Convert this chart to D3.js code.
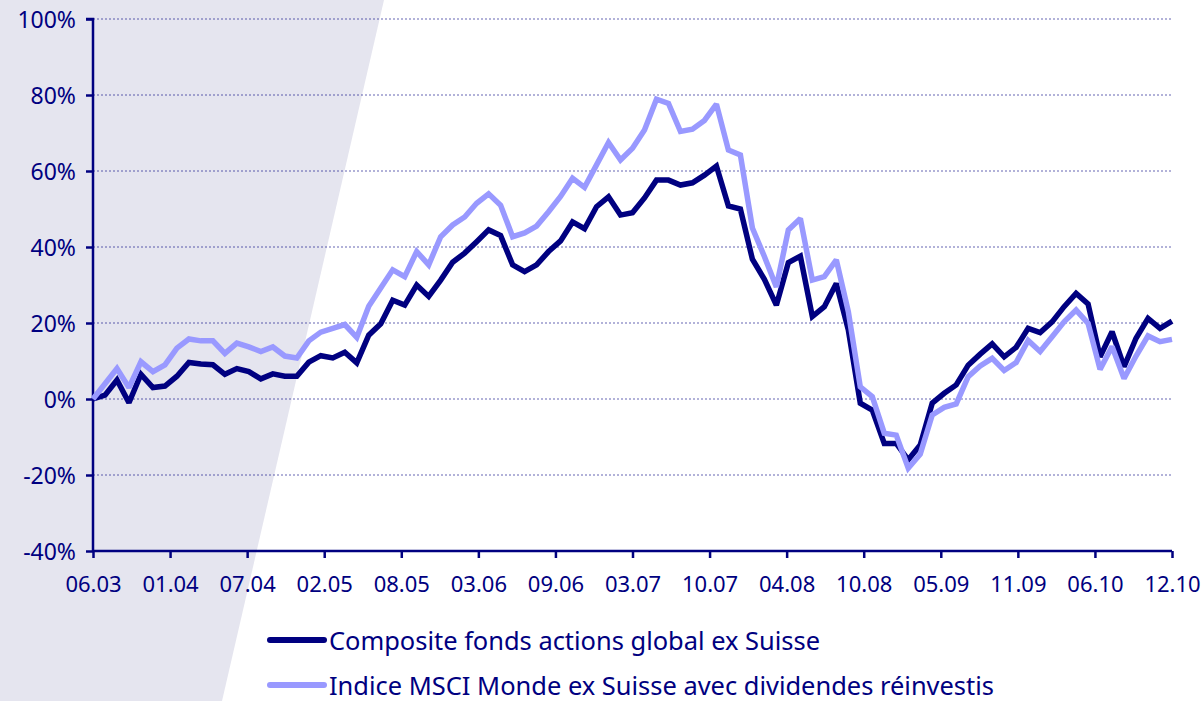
<!DOCTYPE html>
<html>
<head>
<meta charset="utf-8">
<script src="https://cdn.jsdelivr.net/npm/d3@7"></script>
<style>
  html, body { margin: 0; padding: 0; background: #ffffff; }
  svg { display: block; }
</style>
</head>
<body>
<svg id="chart" width="1202" height="701"></svg>
<script>
// ---- Data (monthly, 06.2003 .. 12.2010, cumulative performance in %) ----
const composite = [
  0, 1, 5, -1, 6.5, 3, 3.4, 6, 9.6, 9.2,
  9, 6.5, 8, 7.2, 5.3, 6.6, 6, 6, 9.7, 11.4,
  10.8, 12.3, 9.5, 16.8, 19.8, 26, 24.7, 30, 27, 31.3,
  36, 38.4, 41.4, 44.5, 43, 35.3, 33.5, 35.3, 38.8, 41.6,
  46.6, 44.8, 50.6, 53.2, 48.4, 49, 52.9, 57.6, 57.6, 56.3,
  56.9, 58.9, 61.3, 50.8, 50, 36.8, 31.5, 24.7, 35.9, 37.6,
  21.7, 24.3, 30.4, 18.2, -1.1, -2.9, -11.7, -11.7, -16, -12.1,
  -1.1, 1.5, 3.7, 8.9, 11.8, 14.5, 11.1, 13.6, 18.6, 17.5,
  20.3, 24.3, 27.8, 25, 11.1, 17.7, 8.5, 16, 21.2, 18.6,
  20.5
];
const msci = [
  0, 4, 8, 3, 9.8, 7.2, 9, 13.4, 15.8, 15.3,
  15.3, 12, 14.7, 13.7, 12.5, 13.7, 11.3, 10.8, 15.3, 17.6,
  18.6, 19.6, 16.2, 24.4, 29.2, 34, 32.2, 38.8, 35.3, 42.7,
  45.8, 47.9, 51.5, 54, 51, 42.7, 43.7, 45.5, 49.3, 53.3,
  58.1, 55.7, 61.6, 67.5, 62.9, 66, 70.8, 78.9, 77.8, 70.4,
  71, 73.3, 77.6, 65.5, 64.2, 45, 37.5, 29.5, 44.5, 47.5,
  31.3, 32.2, 36.6, 23, 3.2, 0.6, -9, -9.5, -18.2, -14.5,
  -4.2, -2.2, -1.3, 5.9, 8.7, 10.7, 7.5, 9.6, 15.4, 12.5,
  16.4, 20.3, 23.4, 19.9, 7.8, 13.8, 5.4, 11.3, 16.6, 15.1,
  15.7
];
const xTickLabels = ["06.03","01.04","07.04","02.05","08.05","03.06","09.06","03.07",
                     "10.07","04.08","10.08","05.09","11.09","06.10","12.10"];
const yTicks = [-40, -20, 0, 20, 40, 60, 80, 100];
const seriesNames = ["Composite fonds actions global ex Suisse",
                     "Indice MSCI Monde ex Suisse avec dividendes réinvestis"];

// ---- Layout ----
const svg = d3.select("#chart");
const W = 1202, H = 701;
const mLeft = 93, mRight = 1172, mTop = 19, mBottom = 551;
const navy = "#000080", light = "#9999ff";
const nPts = composite.length;

// background band
svg.append("polygon")
  .attr("points", `0,0 384,0 222,${H} 0,${H}`)
  .attr("fill", "#e5e5ef");

const x = d3.scaleLinear().domain([0, nPts - 1]).range([mLeft, mRight]);
const y = d3.scaleLinear().domain([-40, 100]).range([mBottom, mTop]);

// gridlines
svg.append("g").selectAll("line")
  .data(yTicks.filter(v => v > -40))
  .join("line")
  .attr("x1", mLeft).attr("x2", mRight)
  .attr("y1", d => y(d)).attr("y2", d => y(d))
  .attr("stroke", navy).attr("stroke-width", 1)
  .attr("stroke-dasharray", "2,2").attr("opacity", 0.6);

// y axis
const yAxis = d3.axisLeft(y).tickValues(yTicks).tickFormat(d => d + "%").tickSize(7).tickPadding(10);
const gy = svg.append("g").attr("transform", `translate(${mLeft},0)`).call(yAxis);
gy.select(".domain").attr("stroke", navy).attr("stroke-width", 2.5).attr("d", `M-7,${mTop}H0V${mBottom}`);
gy.selectAll(".tick line").attr("stroke", navy).attr("stroke-width", 2.5);
gy.selectAll(".tick text").attr("fill", navy)
  .style("font-family", "'Noto Sans', sans-serif").style("font-size", "23px")
  .attr("dy", "0.36em");

// x axis
const nT = xTickLabels.length;
const tickPos = d3.range(nT).map(k => k * (nPts - 1) / (nT - 1));
const xAxis = d3.axisBottom(x).tickValues(tickPos)
  .tickFormat((d, i) => xTickLabels[i]).tickSize(7).tickPadding(18);
const gx = svg.append("g").attr("transform", `translate(0,${mBottom})`).call(xAxis);
gx.select(".domain").attr("stroke", navy).attr("stroke-width", 2.5).attr("d", `M${mLeft},0H${mRight}`);
gx.selectAll(".tick line").attr("stroke", navy).attr("stroke-width", 2.5);
gx.selectAll(".tick text").attr("fill", navy)
  .style("font-family", "'Noto Sans', sans-serif").style("font-size", "22px");

// lines
const line = d3.line().x((d, i) => x(i)).y(d => y(d));
svg.append("path").datum(composite).attr("d", line)
  .attr("fill", "none").attr("stroke", navy).attr("stroke-width", 5.5)
  .attr("stroke-linejoin", "miter").attr("stroke-miterlimit", 2);
svg.append("path").datum(msci).attr("d", line)
  .attr("fill", "none").attr("stroke", light).attr("stroke-width", 5.5)
  .attr("stroke-linejoin", "miter").attr("stroke-miterlimit", 2);

// legend
const legend = [
  {name: seriesNames[0], color: navy, ly: 640, ty: 650, len: 491},
  {name: seriesNames[1], color: light, ly: 685, ty: 695, len: 665}
];
const lg = svg.append("g");
legend.forEach(l => {
  lg.append("line").attr("x1", 270).attr("x2", 324).attr("y1", l.ly).attr("y2", l.ly)
    .attr("stroke", l.color).attr("stroke-width", 6).attr("stroke-linecap", "round");
  lg.append("text").attr("x", 329).attr("y", l.ty).text(l.name)
    .attr("fill", navy)
    .style("font-family", "'Noto Sans', sans-serif").style("font-size", "25px")
    .attr("textLength", l.len).attr("lengthAdjust", "spacingAndGlyphs");
});
</script>
</body>
</html>
